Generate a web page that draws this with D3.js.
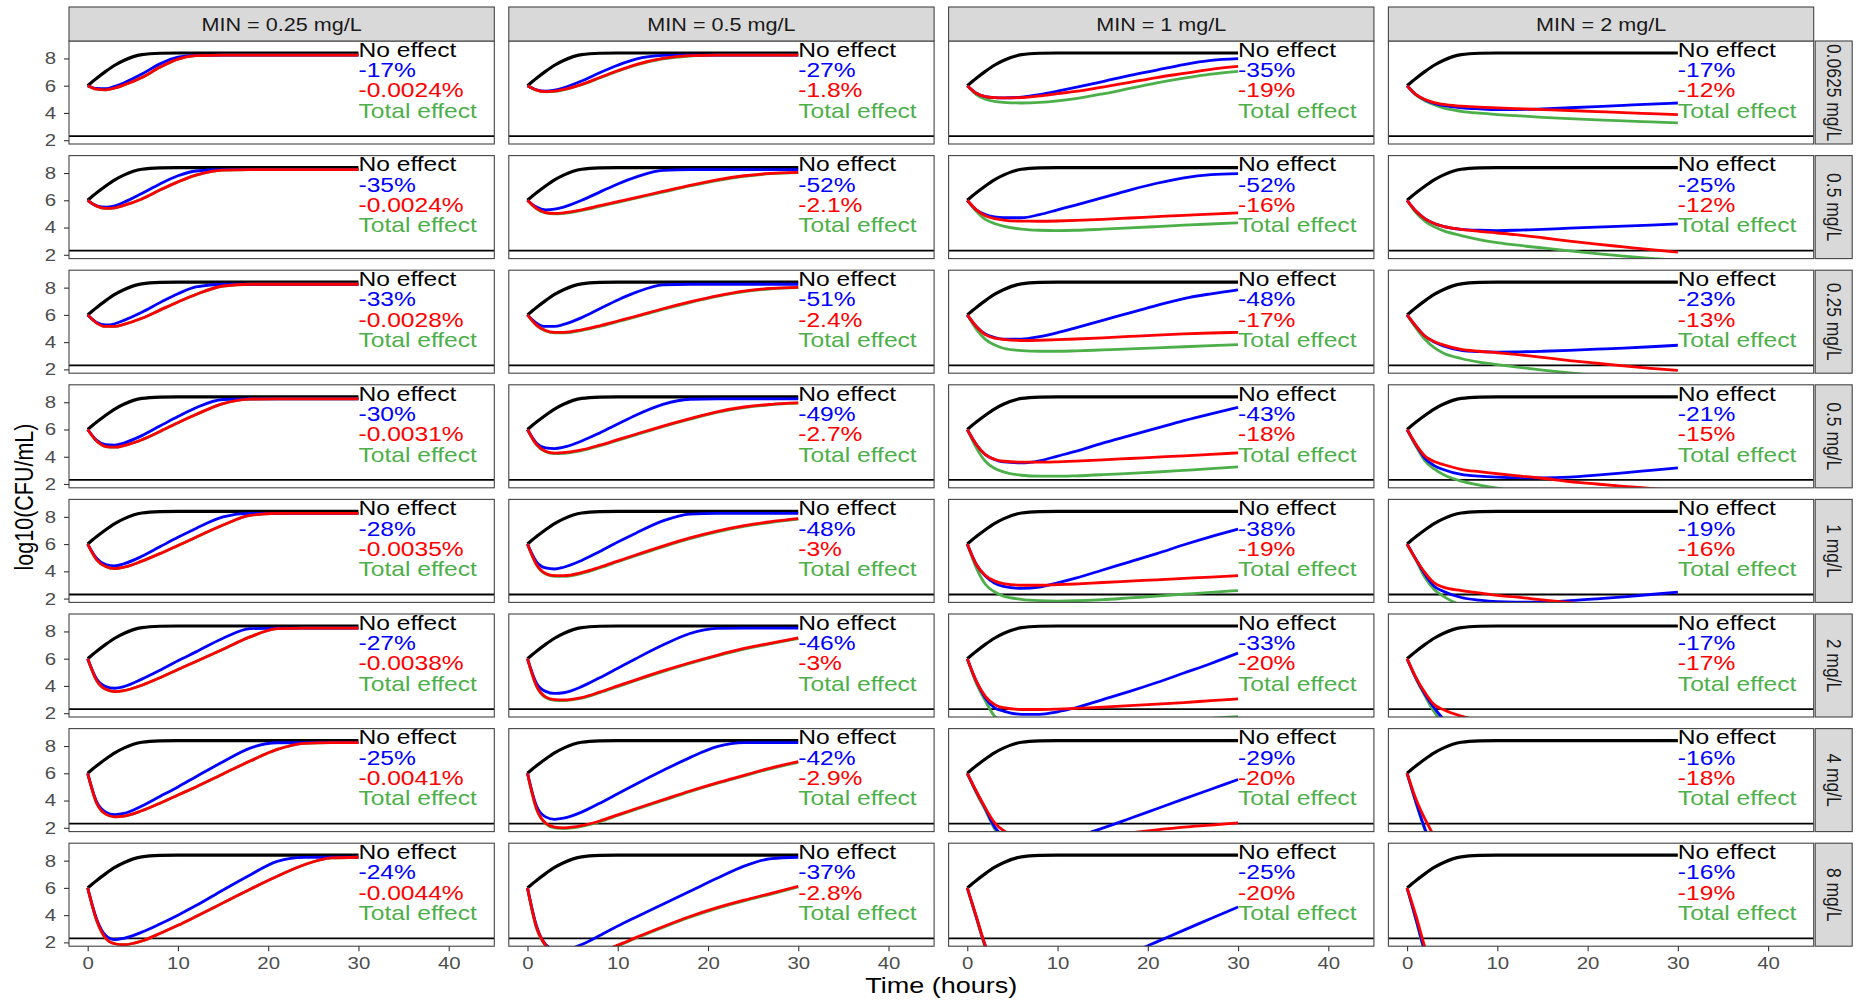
<!DOCTYPE html>
<html><head><meta charset="utf-8">
<script src="https://cdn.jsdelivr.net/npm/d3@7"></script>
<style>body{margin:0;background:#fff}svg{display:block;font-family:"Liberation Sans",Arial,sans-serif}</style>
</head><body><svg id="chart" width="1856" height="1000"></svg>
<script>
// ---------- data ----------
const times = [0,1,2,3,4,6,8,10,12,15,18,21,24,27,30];
const noEffect = [6,6.55,7.05,7.5,7.85,8.28,8.38,8.4,8.4,8.4,8.4,8.4,8.4,8.4,8.4];
const colLabels = ["MIN = 0.25 mg/L","MIN = 0.5 mg/L","MIN = 1 mg/L","MIN = 2 mg/L"];
const rowLabels = ["0.0625 mg/L","0.5 mg/L","0.25 mg/L","0.5 mg/L","1 mg/L","2 mg/L","4 mg/L","8 mg/L"];
const blueLabels = [
  ["-17%","-27%","-35%","-17%"],["-35%","-52%","-52%","-25%"],["-33%","-51%","-48%","-23%"],["-30%","-49%","-43%","-21%"],
  ["-28%","-48%","-38%","-19%"],["-27%","-46%","-33%","-17%"],["-25%","-42%","-29%","-16%"],["-24%","-37%","-25%","-16%"]];
const redLabels = [
  ["-0.0024%","-1.8%","-19%","-12%"],["-0.0024%","-2.1%","-16%","-12%"],["-0.0028%","-2.4%","-17%","-13%"],["-0.0031%","-2.7%","-18%","-15%"],
  ["-0.0035%","-3%","-19%","-16%"],["-0.0038%","-3%","-20%","-17%"],["-0.0041%","-2.9%","-20%","-18%"],["-0.0044%","-2.8%","-20%","-19%"]];
const yTicks = [2,4,6,8];
const xTicks = [0,10,20,30,40];
const loqLevel = 2.3;

// MIN = 0.25 mg/L
const blueMin025 = [
  [6,5.8,5.78,5.95,6.2,6.85,7.6,8.1,8.23,8.25,8.25,8.25,8.25,8.25,8.25],
  [6,5.6,5.5,5.6,5.85,6.5,7.2,7.8,8.15,8.25,8.25,8.25,8.25,8.25,8.25],
  [6,5.45,5.26,5.35,5.6,6.2,6.9,7.55,8.05,8.25,8.25,8.25,8.25,8.25,8.25],
  [6,5.2,4.88,4.85,5.0,5.55,6.25,6.95,7.6,8.2,8.25,8.25,8.25,8.25,8.25],
  [6,4.95,4.5,4.4,4.55,5.1,5.8,6.5,7.15,8.0,8.25,8.25,8.25,8.25,8.25],
  [6,4.5,3.95,3.83,3.95,4.5,5.15,5.85,6.5,7.5,8.2,8.25,8.25,8.25,8.25],
  [6,3.9,3.15,2.97,3.05,3.6,4.3,5.0,5.75,6.85,7.85,8.24,8.25,8.25,8.25],
  [6,3.7,2.5,2.2,2.3,2.75,3.35,4.0,4.7,5.85,6.95,7.95,8.24,8.25,8.25]];
const redMin025 = [
  [6,5.75,5.7,5.83,6.05,6.6,7.35,7.95,8.2,8.25,8.25,8.25,8.25,8.25,8.25],
  [6,5.57,5.4,5.45,5.62,6.1,6.75,7.35,7.85,8.22,8.25,8.25,8.25,8.25,8.25],
  [6,5.4,5.15,5.15,5.3,5.75,6.35,6.95,7.5,8.12,8.25,8.25,8.25,8.25,8.25],
  [6,5.15,4.75,4.7,4.82,5.25,5.85,6.5,7.1,7.9,8.23,8.25,8.25,8.25,8.25],
  [6,4.85,4.35,4.2,4.3,4.75,5.3,5.9,6.5,7.4,8.1,8.25,8.25,8.25,8.25],
  [6,4.4,3.75,3.58,3.65,4.05,4.6,5.2,5.8,6.7,7.6,8.2,8.25,8.25,8.25],
  [6,3.8,3.0,2.8,2.85,3.25,3.8,4.4,5.0,5.95,6.9,7.75,8.2,8.25,8.25],
  [6,3.6,2.3,1.9,1.83,2.1,2.65,3.25,3.9,4.9,5.9,6.85,7.7,8.2,8.25]];
const greenMin025 = [
  [6,5.75,5.7,5.83,6.05,6.6,7.35,7.95,8.2,8.25,8.25,8.25,8.25,8.25,8.25],
  [6,5.57,5.4,5.45,5.62,6.1,6.75,7.35,7.85,8.22,8.25,8.25,8.25,8.25,8.25],
  [6,5.4,5.15,5.15,5.3,5.75,6.35,6.95,7.5,8.12,8.25,8.25,8.25,8.25,8.25],
  [6,5.15,4.75,4.7,4.82,5.25,5.85,6.5,7.1,7.9,8.23,8.25,8.25,8.25,8.25],
  [6,4.85,4.35,4.2,4.3,4.75,5.3,5.9,6.5,7.4,8.1,8.25,8.25,8.25,8.25],
  [6,4.4,3.75,3.58,3.65,4.05,4.6,5.2,5.8,6.7,7.6,8.2,8.25,8.25,8.25],
  [6,3.8,3.0,2.8,2.85,3.25,3.8,4.4,5.0,5.95,6.9,7.75,8.2,8.25,8.25],
  [6,3.6,2.3,1.9,1.83,2.1,2.65,3.25,3.9,4.9,5.9,6.85,7.7,8.2,8.25]];

// MIN = 0.5 mg/L
const blueMin05 = [
  [6,5.7,5.6,5.68,5.85,6.35,6.95,7.5,7.95,8.22,8.25,8.25,8.25,8.25,8.25],
  [6,5.5,5.3,5.35,5.5,6.0,6.6,7.2,7.7,8.2,8.25,8.25,8.25,8.25,8.25],
  [6,5.4,5.15,5.15,5.3,5.8,6.45,7.1,7.65,8.2,8.25,8.25,8.25,8.25,8.25],
  [6,5.0,4.65,4.6,4.7,5.15,5.75,6.4,7.05,7.85,8.22,8.25,8.25,8.25,8.25],
  [6,4.7,4.25,4.17,4.3,4.8,5.45,6.15,6.8,7.7,8.2,8.25,8.25,8.25,8.25],
  [6,4.2,3.6,3.45,3.5,3.95,4.6,5.3,6.0,7.0,7.85,8.22,8.25,8.25,8.25],
  [6,3.6,2.8,2.62,2.7,3.15,3.8,4.5,5.2,6.2,7.15,7.95,8.25,8.25,8.25],
  [6,3.2,1.85,1.5,1.45,1.85,2.5,3.2,3.85,4.8,5.75,6.7,7.6,8.15,8.25]];
const redMin05 = [
  [6,5.68,5.57,5.6,5.72,6.1,6.6,7.1,7.55,8.0,8.2,8.25,8.25,8.25,8.25],
  [6,5.4,5.1,5.04,5.08,5.3,5.6,5.9,6.2,6.65,7.1,7.5,7.8,7.98,8.05],
  [6,5.25,4.85,4.72,4.72,4.9,5.2,5.55,5.9,6.45,6.95,7.4,7.75,7.95,8.02],
  [6,4.9,4.4,4.27,4.3,4.5,4.85,5.25,5.65,6.25,6.8,7.3,7.65,7.85,7.95],
  [6,4.5,3.85,3.68,3.68,3.9,4.3,4.75,5.2,5.85,6.45,6.95,7.35,7.65,7.87],
  [6,4.0,3.2,3.0,2.97,3.15,3.55,4.0,4.45,5.1,5.7,6.25,6.75,7.15,7.52],
  [6,3.4,2.35,2.05,2.0,2.15,2.5,2.95,3.4,4.05,4.7,5.3,5.85,6.4,6.85],
  [6,3.1,1.8,1.3,1.05,1.0,1.3,1.8,2.35,3.15,3.9,4.55,5.1,5.6,6.12]];
const greenMin05 = [
  [6,5.67,5.55,5.58,5.7,6.07,6.56,7.06,7.5,7.96,8.18,8.24,8.25,8.25,8.25],
  [6,5.38,5.07,5.0,5.04,5.26,5.55,5.85,6.15,6.6,7.05,7.45,7.76,7.95,8.03],
  [6,5.23,4.82,4.68,4.68,4.86,5.15,5.5,5.85,6.4,6.9,7.35,7.7,7.92,8.0],
  [6,4.88,4.37,4.23,4.25,4.45,4.8,5.2,5.6,6.2,6.75,7.25,7.6,7.82,7.93],
  [6,4.47,3.8,3.63,3.63,3.85,4.25,4.7,5.15,5.8,6.4,6.9,7.3,7.6,7.83],
  [6,3.97,3.15,2.95,2.92,3.1,3.5,3.95,4.4,5.05,5.65,6.2,6.7,7.1,7.48],
  [6,3.37,2.3,2.0,1.95,2.1,2.45,2.9,3.35,4.0,4.65,5.25,5.8,6.35,6.8],
  [6,3.05,1.75,1.25,1.0,0.95,1.25,1.75,2.3,3.1,3.85,4.5,5.05,5.55,6.07]];

// MIN = 1 mg/L
const blueMin1 = [
  [6,5.45,5.2,5.12,5.1,5.15,5.35,5.6,5.87,6.3,6.75,7.15,7.55,7.85,7.98],
  [6,5.3,4.95,4.78,4.72,4.72,4.95,5.3,5.65,6.2,6.75,7.25,7.65,7.88,7.95],
  [6,5.15,4.6,4.35,4.22,4.22,4.4,4.7,5.05,5.6,6.15,6.7,7.2,7.55,7.84],
  [6,4.9,4.15,3.8,3.62,3.55,3.7,4.05,4.4,5.0,5.55,6.1,6.65,7.15,7.62],
  [6,4.5,3.65,3.15,2.9,2.75,2.85,3.15,3.5,4.1,4.7,5.3,5.95,6.55,7.1],
  [6,4.35,3.12,2.4,2.15,1.92,1.92,2.1,2.4,3.0,3.6,4.25,4.95,5.65,6.41],
  [6,4.65,3.4,2.1,1.4,0.95,0.95,1.1,1.35,1.97,2.68,3.4,4.12,4.83,5.54],
  [6,3.85,1.75,0.5,-0.2,-0.6,-0.7,-0.6,-0.3,0.4,1.19,2.04,2.9,3.75,4.6]];
const redMin1 = [
  [6,5.45,5.2,5.12,5.1,5.13,5.25,5.42,5.58,5.9,6.25,6.6,6.9,7.2,7.41],
  [6,5.3,4.87,4.65,4.55,4.47,4.46,4.48,4.52,4.6,4.7,4.8,4.9,4.98,5.07],
  [6,5.15,4.55,4.3,4.2,4.12,4.14,4.18,4.23,4.32,4.42,4.52,4.6,4.67,4.72],
  [6,4.9,4.16,3.82,3.67,3.6,3.6,3.63,3.68,3.77,3.87,3.97,4.07,4.18,4.28],
  [6,4.5,3.7,3.3,3.1,2.98,2.98,3.02,3.07,3.18,3.28,3.38,3.48,3.58,3.69],
  [6,4.35,3.24,2.65,2.4,2.27,2.27,2.3,2.35,2.45,2.55,2.66,2.78,2.92,3.05],
  [6,4.68,3.46,2.4,1.8,1.35,1.25,1.25,1.3,1.42,1.62,1.85,2.05,2.2,2.36],
  [6,3.9,1.75,0.3,-0.5,-1.0,-1.1,-1.0,-0.9,-0.6,-0.3,0.0,0.3,0.6,0.9]];
const greenMin1 = [
  [6,5.35,5.0,4.85,4.78,4.73,4.77,4.88,5.05,5.4,5.8,6.2,6.55,6.85,7.05],
  [6,5.2,4.6,4.3,4.1,3.88,3.8,3.78,3.8,3.88,3.97,4.07,4.17,4.26,4.34],
  [6,4.95,4.2,3.8,3.55,3.38,3.33,3.33,3.36,3.43,3.5,3.58,3.66,3.74,3.82],
  [6,4.65,3.67,3.15,2.89,2.64,2.57,2.57,2.6,2.68,2.78,2.88,3.0,3.12,3.25],
  [6,4.25,3.05,2.5,2.18,1.95,1.85,1.82,1.84,1.92,2.05,2.18,2.32,2.46,2.59],
  [6,4.2,2.9,1.8,1.4,1.1,1.05,1.07,1.12,1.2,1.3,1.4,1.5,1.62,1.74],
  [6,4.55,3.3,1.95,1.3,0.8,0.6,0.55,0.6,0.7,0.8,0.9,1.0,1.1,1.2],
  [6,3.8,1.6,0.1,-0.7,-1.3,-1.5,-1.5,-1.4,-1.2,-1.0,-0.8,-0.6,-0.4,-0.2]];

// MIN = 2 mg/L
const blueMin2 = [
  [6,5.34,4.95,4.7,4.55,4.38,4.3,4.25,4.25,4.3,4.38,4.47,4.56,4.65,4.73],
  [6,5.19,4.63,4.3,4.09,3.87,3.8,3.78,3.8,3.87,3.95,4.03,4.1,4.18,4.27],
  [6,5.15,4.43,4.0,3.72,3.4,3.3,3.27,3.28,3.33,3.4,3.48,3.56,3.66,3.77],
  [6,4.85,3.86,3.35,3.06,2.7,2.57,2.5,2.46,2.45,2.5,2.65,2.82,3.0,3.18],
  [6,4.86,3.76,2.91,2.54,2.08,1.88,1.77,1.74,1.76,1.85,1.98,2.13,2.3,2.48],
  [6,4.55,3.37,2.39,1.6,0.6,0.0,-0.4,-0.6,-0.7,-0.7,-0.6,-0.5,-0.4,-0.3],
  [6,3.85,1.9,0.5,-0.3,-1.2,-1.8,-2.2,-2.5,-2.8,-3.0,-3.2,-3.3,-3.4,-3.5],
  [6,3.67,1.3,-0.2,-1.0,-2.0,-2.6,-3.0,-3.3,-3.6,-3.8,-4.0,-4.1,-4.2,-4.3]];
const redMin2 = [
  [6,5.34,4.98,4.75,4.62,4.5,4.42,4.37,4.32,4.25,4.18,4.1,4.02,3.95,3.88],
  [6,5.19,4.63,4.3,4.09,3.87,3.72,3.6,3.48,3.25,3.0,2.78,2.58,2.38,2.2],
  [6,5.15,4.43,4.05,3.8,3.47,3.33,3.22,3.1,2.88,2.65,2.45,2.26,2.08,1.92],
  [6,4.89,4.03,3.65,3.43,3.08,2.9,2.75,2.62,2.42,2.18,2.0,1.83,1.68,1.52],
  [6,4.86,3.89,3.15,2.84,2.59,2.42,2.24,2.12,1.9,1.7,1.52,1.36,1.22,1.1],
  [6,4.59,3.49,2.63,2.27,1.78,1.45,1.1,0.8,0.4,0.0,-0.3,-0.6,-0.9,-1.2],
  [6,4.07,2.61,1.4,0.5,-0.6,-1.3,-1.8,-2.1,-2.5,-2.8,-3.0,-3.2,-3.4,-3.5],
  [6,3.92,1.6,0.0,-0.8,-1.8,-2.4,-2.8,-3.1,-3.4,-3.6,-3.8,-3.9,-4.0,-4.1]];
const greenMin2 = [
  [6,5.3,4.9,4.6,4.37,4.12,3.98,3.88,3.8,3.68,3.58,3.49,3.41,3.34,3.27],
  [6,5.07,4.46,4.05,3.77,3.41,3.12,2.9,2.72,2.5,2.28,2.08,1.9,1.74,1.6],
  [6,5.03,4.19,3.6,3.21,2.8,2.53,2.35,2.18,1.95,1.74,1.55,1.38,1.22,1.08],
  [6,4.75,3.67,3.1,2.69,2.21,1.92,1.7,1.5,1.25,1.05,0.88,0.72,0.58,0.45],
  [6,4.8,3.52,2.67,2.18,1.5,1.05,0.7,0.4,0.05,-0.2,-0.4,-0.6,-0.75,-0.9],
  [6,4.5,3.25,2.1,1.3,0.2,-0.5,-1.0,-1.4,-1.8,-2.1,-2.3,-2.5,-2.7,-2.9],
  [6,3.8,1.8,0.3,-0.5,-1.4,-2.0,-2.4,-2.7,-3.0,-3.2,-3.4,-3.5,-3.6,-3.7],
  [6,3.6,1.2,-0.3,-1.1,-2.1,-2.7,-3.1,-3.4,-3.7,-3.9,-4.1,-4.2,-4.3,-4.4]];

const blueByCol = [blueMin025, blueMin05, blueMin1, blueMin2];
const redByCol = [redMin025, redMin05, redMin1, redMin2];
const greenByCol = [greenMin025, greenMin05, greenMin1, greenMin2];

// ---------- layout ----------
const SX = 1.2;                 // horizontal stretch of the reference's text
const FONT = '"Liberation Sans", Arial, sans-serif';
const COLORS = {noeff:"#000000", blue:"#0000FF", red:"#FF0000", green:"#4DAF4A"};
const panelW = 425.3, panelH = 103;
const colX = i => 69 + i * 439.8;
const rowY = j => 41 + j * 114.6;
const nRows = rowLabels.length, nCols = colLabels.length;

const svg = d3.select("#chart");
svg.append("rect").attr("width",1856).attr("height",1000).attr("fill","#fff");

const x = d3.scaleLinear().domain([-2.07, 45.05]).range([0, panelW]);
const y = d3.scaleLinear().domain([1.72, 9.28]).range([panelH, 0]);
const line = d3.line().x((d,i) => x(times[i])).y(d => y(d)).curve(d3.curveMonotoneX);

svg.append("defs").append("clipPath").attr("id","pclip")
  .append("rect").attr("x",0).attr("y",0).attr("width",panelW).attr("height",panelH);

function sText(parent, px, py, str, size, fill, anchor, rot) {
  return parent.append("text")
    .attr("transform", `translate(${px},${py}) scale(${SX},1)` + (rot ? ` rotate(${rot})` : ""))
    .attr("font-family", FONT).attr("font-size", size).attr("fill", fill)
    .attr("text-anchor", anchor || "start").text(str);
}

const annY = [8.12, 6.63, 5.14, 3.65];

for (let r = 0; r < nRows; r++) {
  for (let c = 0; c < nCols; c++) {
    const g = svg.append("g").attr("transform", `translate(${colX(c)},${rowY(r)})`);
    g.append("rect").attr("width", panelW).attr("height", panelH).attr("fill", "#fff");
    const lg = g.append("g").attr("clip-path", "url(#pclip)");
    lg.append("line").attr("x1",0).attr("x2",panelW).attr("y1",y(loqLevel)).attr("y2",y(loqLevel))
      .attr("stroke","#000").attr("stroke-width",1.8);
    const series = [
      [noEffect, COLORS.noeff, 3.2],
      [greenByCol[c][r], COLORS.green, 2.8],
      [blueByCol[c][r], COLORS.blue, 2.8],
      [redByCol[c][r], COLORS.red, 2.8]
    ];
    series.forEach(([vals, col, w]) => {
      lg.append("path").attr("d", line(vals)).attr("fill","none")
        .attr("stroke", col).attr("stroke-width", w).attr("stroke-linejoin","round");
    });
    const labels = [["No effect", COLORS.noeff],[blueLabels[r][c], COLORS.blue],[redLabels[r][c], COLORS.red],["Total effect", COLORS.green]];
    labels.forEach(([t, col], k) => sText(g, x(30), y(annY[k]), t, 20.5, col, "start"));
    g.append("rect").attr("width", panelW).attr("height", panelH).attr("fill","none")
      .attr("stroke","#444").attr("stroke-width",1.1);

    if (c === 0) {
      const ax = g.append("g").call(d3.axisLeft(y).tickValues(yTicks).tickSize(5).tickPadding(9));
      ax.select(".domain").remove();
      ax.selectAll(".tick line").attr("stroke","#333").attr("stroke-width",1.1);
      ax.selectAll(".tick text").attr("font-family",FONT).attr("font-size",17).attr("fill","#4d4d4d")
        .attr("x", -13 / SX).attr("transform", `scale(${SX},1)`);
    }
    if (r === nRows - 1) {
      const ax = g.append("g").attr("transform", `translate(0,${panelH})`)
        .call(d3.axisBottom(x).tickValues(xTicks).tickSize(5).tickPadding(6));
      ax.select(".domain").remove();
      ax.selectAll(".tick line").attr("stroke","#333").attr("stroke-width",1.1);
      ax.selectAll(".tick text").attr("font-family",FONT).attr("font-size",17).attr("fill","#4d4d4d")
        .attr("transform", `scale(${SX},1)`);
    }
  }
}

// top strips
colLabels.forEach((lab, c) => {
  svg.append("rect").attr("x", colX(c)).attr("y", 7).attr("width", panelW).attr("height", 34)
    .attr("fill","#d9d9d9").attr("stroke","#444").attr("stroke-width",1.1);
  sText(svg, colX(c) + panelW/2, 7 + 17 + 6.5, lab, 18, "#1a1a1a", "middle");
});
// right strips
rowLabels.forEach((lab, r) => {
  const sx = colX(nCols-1) + panelW + 1.5;
  svg.append("rect").attr("x", sx).attr("y", rowY(r)).attr("width", 37).attr("height", panelH)
    .attr("fill","#d9d9d9").attr("stroke","#444").attr("stroke-width",1.1);
  sText(svg, sx + 18.5 - 6.5, rowY(r) + panelH/2, lab, 17.5, "#1a1a1a", "middle", 90);
});

// axis titles
sText(svg, (colX(0) + colX(nCols-1) + panelW)/2, 993, "Time (hours)", 22.5, "#000", "middle");
sText(svg, 33, 497, "log10(CFU/mL)", 21.5, "#000", "middle", -90);
</script></body></html>
